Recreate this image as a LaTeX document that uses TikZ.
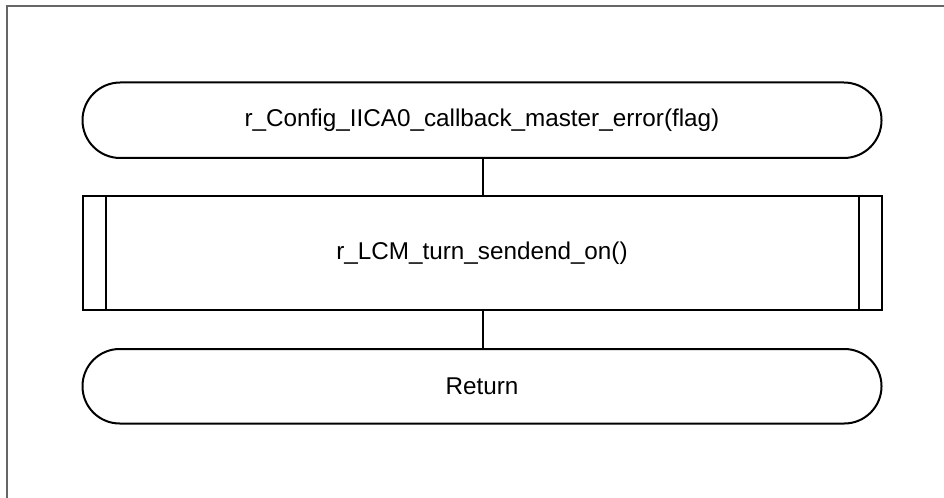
\documentclass[tikz,border=0pt]{standalone}
\usepackage{fontspec}
\setmainfont{Liberation Sans}
\begin{document}
\begin{tikzpicture}[x=0.75pt,y=-0.75pt,
  line/.style={draw=black,line width=1.5pt},
  txt/.style={font=\fontsize{18.2pt}{22pt}\selectfont,inner sep=0pt}]
\useasboundingbox (0,0) rectangle (944,498);
\draw[draw=black!60,line width=1.5pt] (6.5,498) -- (6.5,6.5) -- (944,6.5);
% top terminator
\draw[line,rounded corners=28.3pt] (82.5,82.5) rectangle (881.5,158);
\node[txt] (t1) at (482,120.25) {r\_Config\_IICA0\_callback\_master\_error(flag)};
\coordinate (t1b) at (482.5,158);
% process
\draw[line] (82.5,196) rectangle (881.5,310.5);
\draw[line] (105.5,196) -- (105.5,310.5);
\draw[line] (858.5,196) -- (858.5,310.5);
\node[txt] (p1) at (482,253.25) {r\_LCM\_turn\_sendend\_on()};
\coordinate (p1t) at (482.5,196);
\coordinate (p1b) at (482.5,310.5);
% bottom terminator
\draw[line,rounded corners=27.9pt] (82.5,349) rectangle (881.5,423.5);
\node[txt] (t2) at (482,386.25) {Return};
\coordinate (t2t) at (482.5,349);
% connectors
\draw[line] (t1b) -- (p1t);
\draw[line] (p1b) -- (t2t);
\end{tikzpicture}
\end{document}
